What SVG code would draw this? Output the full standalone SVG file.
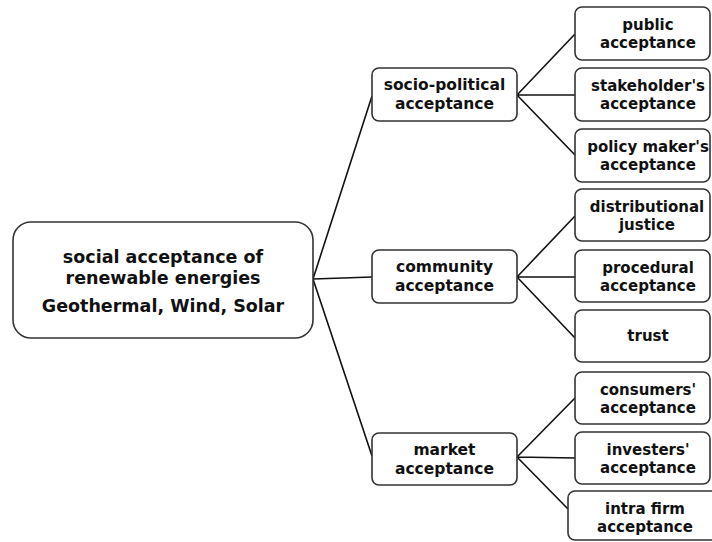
<svg xmlns="http://www.w3.org/2000/svg" width="712" height="542" viewBox="0 0 712 542">
<style>
.box{fill:#fff;stroke:#333;stroke-width:1.6}
.t{font-family:"DejaVu Sans","Liberation Sans",sans-serif;font-weight:bold;fill:#111;text-anchor:middle}
.m{font-size:17.5px}
.s{font-size:15.5px}
.l{font-size:15px}
.c{stroke:#111;stroke-width:1.6;fill:none}
</style>
<rect width="712" height="542" fill="#fff"/>
<g id="connectors">
<path class="c" d="M313,279 L372,96 M313,279 L372,277 M313,279 L372,456"/>
<path class="c" d="M517,95 L575,34 M517,95 L575,95 M517,95 L575,155"/>
<path class="c" d="M517,277 L575,216 M517,277 L575,277 M517,277 L575,338"/>
<path class="c" d="M517,457 L575,398 M517,457 L575,458 M517,457 L568,509"/>
</g>
<g id="root">
<rect class="box" x="13" y="222" width="300" height="116" rx="18"/>
<text class="t m" x="163" y="263">social acceptance of</text>
<text class="t m" x="163" y="283.5">renewable energies</text>
<text class="t m" x="163" y="312">Geothermal, Wind, Solar</text>
</g>
<g id="socio-political">
<rect class="box" x="372" y="68" width="145" height="53" rx="7"/>
<text class="t s" x="444.5" y="90">socio-political</text>
<text class="t s" x="444.5" y="108.5">acceptance</text>
</g>
<g id="community">
<rect class="box" x="372" y="250" width="145" height="53" rx="7"/>
<text class="t s" x="444.5" y="272">community</text>
<text class="t s" x="444.5" y="290.5">acceptance</text>
</g>
<g id="market">
<rect class="box" x="372" y="433" width="145" height="52" rx="7"/>
<text class="t s" x="444.5" y="455">market</text>
<text class="t s" x="444.5" y="473.5">acceptance</text>
</g>
<g id="public">
<rect class="box" x="575" y="7" width="135" height="53" rx="7"/>
<text class="t l" x="648" y="29.5">public</text>
<text class="t l" x="648" y="47.5">acceptance</text>
</g>
<g id="stakeholder">
<rect class="box" x="575" y="68" width="135" height="53" rx="7"/>
<text class="t l" x="648" y="90.5">stakeholder's</text>
<text class="t l" x="648" y="108.5">acceptance</text>
</g>
<g id="policy">
<rect class="box" x="575" y="129" width="135" height="53" rx="7"/>
<text class="t l" x="648" y="151.5">policy maker's</text>
<text class="t l" x="648" y="169.5">acceptance</text>
</g>
<g id="distributional">
<rect class="box" x="575" y="189" width="135" height="52" rx="7"/>
<text class="t l" x="647" y="211.5">distributional</text>
<text class="t l" x="647" y="229.5">justice</text>
</g>
<g id="procedural">
<rect class="box" x="575" y="250" width="135" height="52" rx="7"/>
<text class="t l" x="648" y="272.5">procedural</text>
<text class="t l" x="648" y="290.5">acceptance</text>
</g>
<g id="trust">
<rect class="box" x="575" y="310" width="135" height="52" rx="7"/>
<text class="t l" x="648" y="341">trust</text>
</g>
<g id="consumers">
<rect class="box" x="575" y="372" width="135" height="52" rx="7"/>
<text class="t l" x="648" y="394.5">consumers'</text>
<text class="t l" x="648" y="412.5">acceptance</text>
</g>
<g id="investers">
<rect class="box" x="575" y="432" width="135" height="52" rx="7"/>
<text class="t l" x="648" y="454.5">investers'</text>
<text class="t l" x="648" y="472.5">acceptance</text>
</g>
<g id="intra-firm">
<rect class="box" x="568" y="491" width="150" height="49" rx="7"/>
<text class="t l" x="645" y="513.5">intra firm</text>
<text class="t l" x="645" y="531.5">acceptance</text>
</g>
</svg>
